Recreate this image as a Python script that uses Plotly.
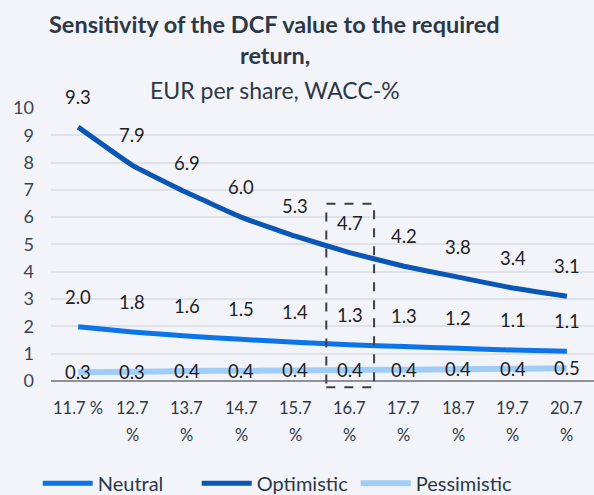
import plotly.graph_objects as go

categories = ["11.7 %", "12.7 %", "13.7 %", "14.7 %", "15.7 %", "16.7 %", "17.7 %", "18.7 %", "19.7 %", "20.7 %"]
tick_line1 = ["11.7 %", "12.7", "13.7", "14.7", "15.7", "16.7", "17.7", "18.7", "19.7", "20.7"]
tick_line2 = ["", "%", "%", "%", "%", "%", "%", "%", "%", "%"]
neutral = [1.98, 1.79, 1.64, 1.52, 1.41, 1.32, 1.26, 1.19, 1.13, 1.08]
optimistic = [9.3, 7.9, 6.9, 6.0, 5.3, 4.7, 4.2, 3.8, 3.4, 3.1]
pessimistic = [0.31, 0.33, 0.36, 0.37, 0.38, 0.40, 0.41, 0.42, 0.44, 0.46]
highlight_index = 5

FONT = "Lato"
TXT = "#2d3846"

fig = go.Figure()
series = [
    ("Neutral", neutral, "#0a74e8", 5, 30),
    ("Optimistic", optimistic, "#0a56b5", 5, 30),
    ("Pessimistic", pessimistic, "#a0cdf8", 6, 0),
]
for name, vals, color, w, shift in series:
    fig.add_trace(go.Scatter(
        x=categories, y=vals, name=name, mode="lines",
        line=dict(color=color, width=w, shape="spline", smoothing=0.3),
        cliponaxis=False, hoverinfo="skip",
    ))
for name, vals, color, w, shift in series:
    for c, v in zip(categories, vals):
        fig.add_annotation(x=c, y=v, text=f"{v:.1f}", showarrow=False, yshift=shift,
                           font=dict(family=FONT, size=18.5, color="#1e1e1e"))

# x tick labels (two lines with wider spacing)
for c, t1, t2 in zip(categories, tick_line1, tick_line2):
    fig.add_annotation(x=c, xref="x", y=0, yref="paper", yshift=-19, yanchor="middle",
                       text=t1, showarrow=False, font=dict(family=FONT, size=16.5, color=TXT))
    if t2:
        fig.add_annotation(x=c, xref="x", y=0, yref="paper", yshift=-46, yanchor="middle",
                           text=t2, showarrow=False, font=dict(family=FONT, size=16.5, color=TXT))

# title
title_x = (274.5 - 51) / 543
fig.add_annotation(x=title_x, xref="paper", y=1, yref="paper", yshift=84, yanchor="middle",
                   text="<b>Sensitivity of the DCF value to the required</b>", showarrow=False,
                   font=dict(family=FONT, size=23.5, color=TXT))
fig.add_annotation(x=title_x, xref="paper", y=1, yref="paper", yshift=53, yanchor="middle",
                   text="<b>return,</b>", showarrow=False,
                   font=dict(family=FONT, size=23.5, color=TXT))
fig.add_annotation(x=title_x, xref="paper", y=1, yref="paper", yshift=18, yanchor="middle",
                   text="EUR per share, WACC-%", showarrow=False,
                   font=dict(family=FONT, size=23, color=TXT))

fig.add_shape(type="rect", xref="x", yref="y",
              x0=highlight_index - 0.43, x1=highlight_index + 0.45, y0=-0.24, y1=6.49,
              line=dict(color="#3b4048", width=2, dash="dash"), layer="above")

fig.update_layout(
    width=594, height=495,
    paper_bgcolor="#f3f4f9", plot_bgcolor="#f3f4f9",
    margin=dict(l=51, r=0, t=108, b=106, autoexpand=False),
    font=dict(family=FONT, color=TXT),
    hovermode=False,
    xaxis=dict(type="category", range=[-0.5, 9.5], showgrid=False, showticklabels=False,
               ticks="", showline=False, zeroline=False),
    yaxis=dict(range=[-0.3, 10], dtick=1, tick0=0, showgrid=True, gridcolor="#e0e1e6", gridwidth=1.5,
               zeroline=True, zerolinecolor="#8e9198", zerolinewidth=1.5, ticklabelstandoff=16,
               tickfont=dict(size=18, color="#3a4552"), ticks="", showline=False),
    legend=dict(orientation="h", x=0.465, xanchor="center", xref="container",
                y=-0.335, yanchor="middle", yref="paper",
                font=dict(family=FONT, size=20, color=TXT), itemwidth=50,
                entrywidth=94, entrywidthmode="pixels", bgcolor="rgba(0,0,0,0)"),
    showlegend=True,
)

fig.write_html("out.html", config={"displayModeBar": False},
               post_script="document.body.style.margin='0';")
